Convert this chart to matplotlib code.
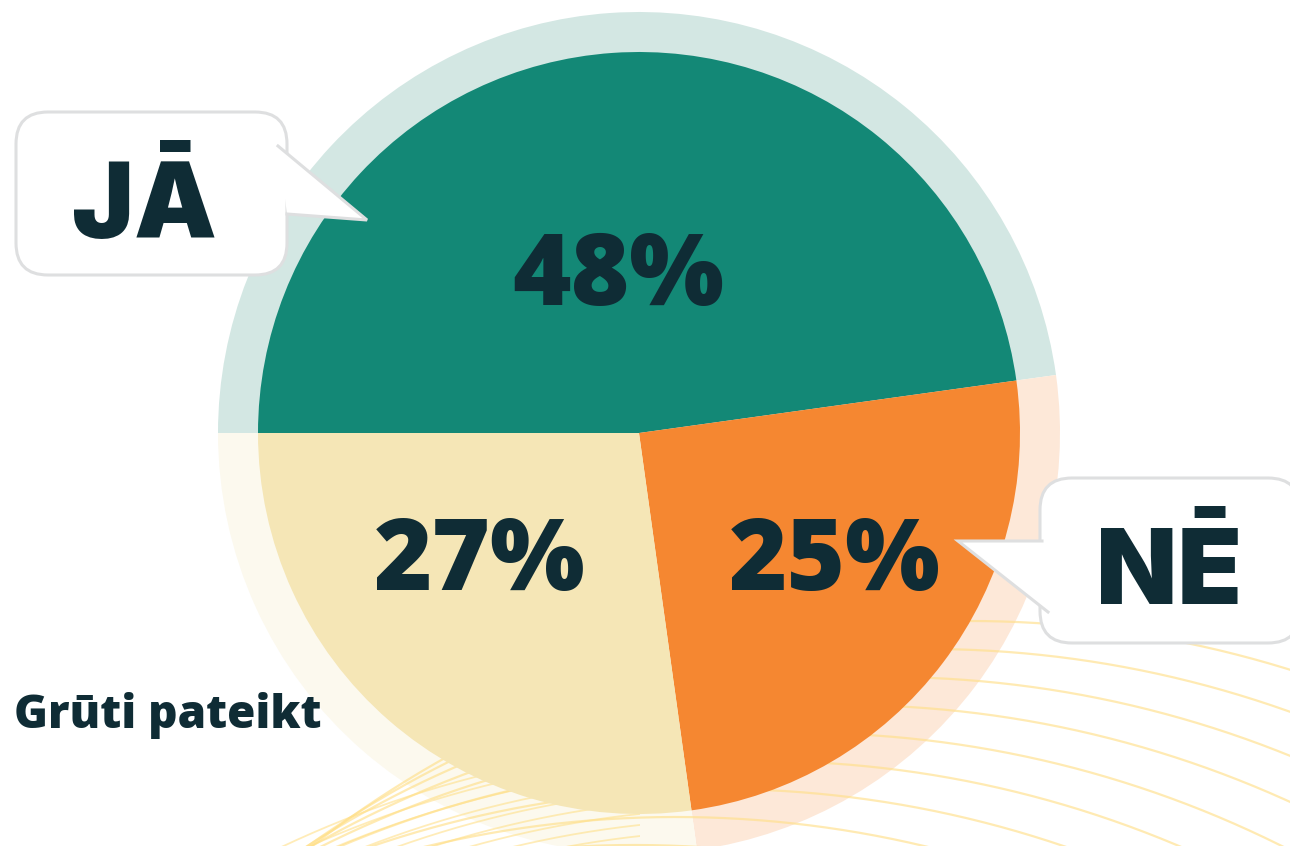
import numpy as np
import matplotlib
matplotlib.use("Agg")
import matplotlib.pyplot as plt
from matplotlib.patches import FancyBboxPatch, Polygon
from matplotlib.lines import Line2D

# ---- data ----
categories = ["JĀ", "NĒ", "Grūti pateikt"]
values = [47.8, 25.0, 27.2]
colors_main = ["#138876", "#F58731", "#F5E6B6"]
colors_ring = ["#D3E7E3", "#FDE8D8", "#FCF9EE"]
value_labels = [f"{v:.0f}%" for v in values]

W, H = 1290, 846
TXT = "#0F2C35"
NUMFONT = ["Open Sans", "DejaVu Sans"]
CATFONT = ["Inter", "DejaVu Sans"]

fig = plt.figure(figsize=(W / 100, H / 100), dpi=100)
ax = fig.add_axes([0, 0, 1, 1])

def Y(y):
    return H - y

cx, cy = 639, Y(433)

# outer light ring
ax.pie(values, radius=421, center=(cx, cy), startangle=180, counterclock=False,
       colors=colors_ring, wedgeprops=dict(linewidth=0), frame=True)

# decorative ripple lines (right family)
R = 1075
t = np.linspace(-np.pi, np.pi, 2000)
for i in range(10):
    xc = 970 - 42 * i
    yt = 621 + 28 * i
    xs = xc + R * np.sin(t)
    ys = (yt + R) - R * np.cos(t)
    ax.plot(xs, [Y(v) for v in ys], color="#FFE08A", lw=1.6, alpha=0.65, zorder=1.5)

# decorative ripple lines (left family), clipped to the lower-left region
clip = plt.Rectangle((0, 0), 640, Y(700), transform=ax.transData)
R2 = 1098
for j in range(12):
    r = R2 - 11 * j
    xs = 750 + r * np.sin(t)
    ys = 1840 - r * np.cos(t)
    ln, = ax.plot(xs, [Y(v) for v in ys], color="#FFE08A", lw=1.3, alpha=0.6, zorder=1.5)
    ln.set_clip_path(clip)

# main pie
wedges, _ = ax.pie(values, radius=381, center=(cx, cy), startangle=180, counterclock=False,
                   colors=colors_main, wedgeprops=dict(linewidth=0), frame=True)
for w in wedges:
    w.set_zorder(3)

# value labels
label_pos = [(618, 305), (835, 590), (480, 590)]
for (x, y), lab in zip(label_pos, value_labels):
    ax.text(x, Y(y), lab, ha="center", va="baseline", fontsize=72, fontweight=800,
            family=NUMFONT, color=TXT, zorder=5)

# speech bubbles
def bubble(x0, y0, x1, y1, tail):
    body = FancyBboxPatch((x0, Y(y1)), x1 - x0, y1 - y0,
                          boxstyle="round,pad=0,rounding_size=32",
                          facecolor="white", edgecolor="#DEDFE0", lw=2.2, zorder=6)
    ax.add_patch(body)
    pts = [(px, Y(py)) for px, py in tail]
    ax.add_patch(Polygon(pts, closed=True, facecolor="white", edgecolor="none", zorder=7))
    ax.add_line(Line2D([pts[0][0], pts[1][0], pts[2][0]], [pts[0][1], pts[1][1], pts[2][1]],
                       color="#DEDFE0", lw=2.2, zorder=7, solid_joinstyle="miter"))

bubble(16, 112, 287, 275, [(278, 146), (367, 220), (287, 214)])
bubble(1040, 478, 1300, 643, [(1042, 541), (958, 541), (1048, 612)])

ax.text(144, Y(238), categories[0], ha="center", va="baseline", fontsize=75,
        fontweight=900, family=CATFONT, color=TXT, zorder=8)
ax.text(1169, Y(604), categories[1], ha="center", va="baseline", fontsize=76,
        fontweight=900, family=CATFONT, color=TXT, zorder=8)
ax.text(14, Y(728), categories[2], ha="left", va="baseline", fontsize=33,
        fontweight=800, family=NUMFONT, color=TXT, zorder=8)

ax.set_xlim(0, W)
ax.set_ylim(0, H)
ax.set_aspect("equal")
ax.axis("off")
fig.savefig("out.png", dpi=100, facecolor="white")
